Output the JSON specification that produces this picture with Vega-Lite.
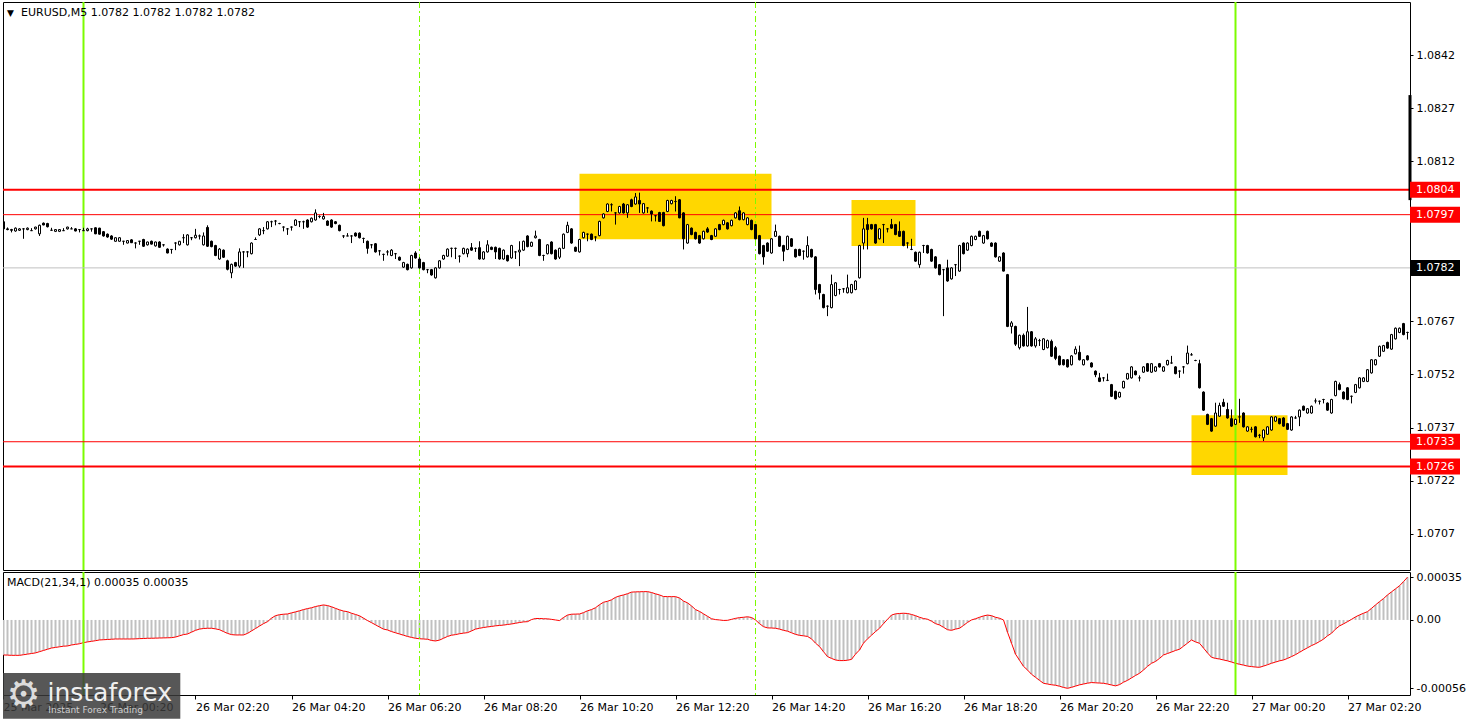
{
"$schema":"https://vega.github.io/schema/vega-lite/v6.json",
"background":"#ffffff",
"padding":{"left":1,"top":0,"right":0,"bottom":0},
"spacing":2,
"bounds":"flush",
"config":{"view":{"stroke":"#000000","strokeWidth":1},"font":"DejaVu Sans","axis":{"labelFont":"DejaVu Sans","labelFontSize":11,"labelColor":"#000000","tickColor":"#000000","tickWidth":1,"domain":false,"grid":false}},
"datasets":{
"bars":[
{"t":"2025-03-25T22:20","o":1.0795,"h":1.07956,"l":1.07926,"c":1.0793,"m":-0.000287},
{"t":"2025-03-25T22:25","o":1.0793,"h":1.07934,"l":1.07926,"c":1.07928,"m":-0.000288},
{"t":"2025-03-25T22:30","o":1.07928,"h":1.0793,"l":1.0792,"c":1.07926,"m":-0.00029},
{"t":"2025-03-25T22:35","o":1.07924,"h":1.07934,"l":1.07922,"c":1.07932,"m":-0.00029},
{"t":"2025-03-25T22:40","o":1.07926,"h":1.07932,"l":1.07924,"c":1.0793,"m":-0.00029},
{"t":"2025-03-25T22:45","o":1.0793,"h":1.07932,"l":1.07902,"c":1.0793,"m":-0.000285},
{"t":"2025-03-25T22:50","o":1.07928,"h":1.07934,"l":1.07926,"c":1.07932,"m":-0.00028},
{"t":"2025-03-25T22:55","o":1.07925,"h":1.07932,"l":1.07925,"c":1.07925,"m":-0.000275},
{"t":"2025-03-25T23:00","o":1.0793,"h":1.07936,"l":1.07928,"c":1.07935,"m":-0.00027},
{"t":"2025-03-25T23:05","o":1.07916,"h":1.07942,"l":1.0791,"c":1.0794,"m":-0.00026},
{"t":"2025-03-25T23:10","o":1.07946,"h":1.07948,"l":1.0794,"c":1.07941,"m":-0.00025},
{"t":"2025-03-25T23:15","o":1.07945,"h":1.07947,"l":1.07934,"c":1.07936,"m":-0.00024},
{"t":"2025-03-25T23:20","o":1.07926,"h":1.07933,"l":1.07926,"c":1.07926,"m":-0.00023},
{"t":"2025-03-25T23:25","o":1.07923,"h":1.07929,"l":1.07921,"c":1.07928,"m":-0.000225},
{"t":"2025-03-25T23:30","o":1.07923,"h":1.07929,"l":1.07921,"c":1.07928,"m":-0.00022},
{"t":"2025-03-25T23:35","o":1.07925,"h":1.07932,"l":1.07925,"c":1.07925,"m":-0.000215},
{"t":"2025-03-25T23:40","o":1.0793,"h":1.07936,"l":1.07928,"c":1.07935,"m":-0.000213},
{"t":"2025-03-25T23:45","o":1.0793,"h":1.07935,"l":1.0793,"c":1.0793,"m":-0.000205},
{"t":"2025-03-25T23:50","o":1.0793,"h":1.07932,"l":1.07923,"c":1.07924,"m":-0.0002},
{"t":"2025-03-25T23:55","o":1.07928,"h":1.07928,"l":1.0792,"c":1.07928,"m":-0.000195},
{"t":"2025-03-26T00:00","o":1.07925,"h":1.07933,"l":1.07925,"c":1.07925,"m":-0.000186},
{"t":"2025-03-26T00:05","o":1.07925,"h":1.07933,"l":1.07923,"c":1.0793,"m":-0.00018},
{"t":"2025-03-26T00:10","o":1.0793,"h":1.0793,"l":1.07922,"c":1.0793,"m":-0.000175},
{"t":"2025-03-26T00:15","o":1.07933,"h":1.07934,"l":1.07915,"c":1.07916,"m":-0.00017},
{"t":"2025-03-26T00:20","o":1.07932,"h":1.07933,"l":1.07914,"c":1.07915,"m":-0.000164},
{"t":"2025-03-26T00:25","o":1.07922,"h":1.07924,"l":1.07908,"c":1.0791,"m":-0.000162},
{"t":"2025-03-26T00:30","o":1.07915,"h":1.07917,"l":1.07905,"c":1.07907,"m":-0.00016},
{"t":"2025-03-26T00:35","o":1.0791,"h":1.07912,"l":1.07899,"c":1.07901,"m":-0.000158},
{"t":"2025-03-26T00:40","o":1.07895,"h":1.07906,"l":1.07894,"c":1.07905,"m":-0.000156},
{"t":"2025-03-26T00:45","o":1.07895,"h":1.07906,"l":1.07894,"c":1.07905,"m":-0.000156},
{"t":"2025-03-26T00:50","o":1.07895,"h":1.07896,"l":1.07885,"c":1.07895,"m":-0.000156},
{"t":"2025-03-26T00:55","o":1.0789,"h":1.07898,"l":1.07889,"c":1.07897,"m":-0.000156},
{"t":"2025-03-26T01:00","o":1.07899,"h":1.07901,"l":1.0789,"c":1.07891,"m":-0.000156},
{"t":"2025-03-26T01:05","o":1.0789,"h":1.07892,"l":1.07875,"c":1.0789,"m":-0.000155},
{"t":"2025-03-26T01:10","o":1.07895,"h":1.07896,"l":1.07885,"c":1.07895,"m":-0.000153},
{"t":"2025-03-26T01:15","o":1.079,"h":1.07902,"l":1.07879,"c":1.07881,"m":-0.000152},
{"t":"2025-03-26T01:20","o":1.07885,"h":1.07894,"l":1.07883,"c":1.07893,"m":-0.00015},
{"t":"2025-03-26T01:25","o":1.07895,"h":1.07897,"l":1.07886,"c":1.07887,"m":-0.00015},
{"t":"2025-03-26T01:30","o":1.07882,"h":1.07894,"l":1.0788,"c":1.07893,"m":-0.000149},
{"t":"2025-03-26T01:35","o":1.07893,"h":1.07895,"l":1.07877,"c":1.07878,"m":-0.000148},
{"t":"2025-03-26T01:40","o":1.07885,"h":1.07886,"l":1.0788,"c":1.07885,"m":-0.000147},
{"t":"2025-03-26T01:45","o":1.07873,"h":1.07875,"l":1.07861,"c":1.07862,"m":-0.000146},
{"t":"2025-03-26T01:50","o":1.07872,"h":1.07873,"l":1.0786,"c":1.07872,"m":-0.000145},
{"t":"2025-03-26T01:55","o":1.0789,"h":1.07892,"l":1.0787,"c":1.0789,"m":-0.00014},
{"t":"2025-03-26T02:00","o":1.07885,"h":1.07896,"l":1.07883,"c":1.07895,"m":-0.00013},
{"t":"2025-03-26T02:05","o":1.07905,"h":1.07915,"l":1.0789,"c":1.07905,"m":-0.00012},
{"t":"2025-03-26T02:10","o":1.07885,"h":1.07915,"l":1.07883,"c":1.07913,"m":-0.000115},
{"t":"2025-03-26T02:15","o":1.07905,"h":1.07907,"l":1.07898,"c":1.07905,"m":-0.0001},
{"t":"2025-03-26T02:20","o":1.07905,"h":1.0793,"l":1.07903,"c":1.07912,"m":-0.000085},
{"t":"2025-03-26T02:25","o":1.0791,"h":1.07914,"l":1.079,"c":1.0791,"m":-0.000075},
{"t":"2025-03-26T02:30","o":1.07885,"h":1.0792,"l":1.07883,"c":1.0791,"m":-0.00007},
{"t":"2025-03-26T02:35","o":1.07934,"h":1.0794,"l":1.07879,"c":1.07881,"m":-0.000068},
{"t":"2025-03-26T02:40","o":1.07895,"h":1.07897,"l":1.07878,"c":1.0788,"m":-0.000068},
{"t":"2025-03-26T02:45","o":1.07883,"h":1.07885,"l":1.07853,"c":1.07855,"m":-0.000073},
{"t":"2025-03-26T02:50","o":1.07845,"h":1.07876,"l":1.07843,"c":1.07873,"m":-0.00008},
{"t":"2025-03-26T02:55","o":1.0787,"h":1.07872,"l":1.07848,"c":1.0785,"m":-0.000095},
{"t":"2025-03-26T03:00","o":1.0784,"h":1.07843,"l":1.07813,"c":1.07816,"m":-0.00011},
{"t":"2025-03-26T03:05","o":1.07806,"h":1.07832,"l":1.07791,"c":1.0783,"m":-0.00012},
{"t":"2025-03-26T03:10","o":1.07835,"h":1.07837,"l":1.07823,"c":1.07825,"m":-0.000123},
{"t":"2025-03-26T03:15","o":1.07825,"h":1.07875,"l":1.0782,"c":1.07865,"m":-0.000123},
{"t":"2025-03-26T03:20","o":1.07865,"h":1.07867,"l":1.0782,"c":1.07865,"m":-0.000123},
{"t":"2025-03-26T03:25","o":1.07865,"h":1.07867,"l":1.0785,"c":1.07865,"m":-0.00011},
{"t":"2025-03-26T03:30","o":1.0786,"h":1.07892,"l":1.07858,"c":1.0789,"m":-0.00009},
{"t":"2025-03-26T03:35","o":1.079,"h":1.07906,"l":1.079,"c":1.079,"m":-0.00007},
{"t":"2025-03-26T03:40","o":1.07913,"h":1.07932,"l":1.0791,"c":1.0793,"m":-0.00005},
{"t":"2025-03-26T03:45","o":1.07925,"h":1.07935,"l":1.07915,"c":1.07925,"m":-0.00003},
{"t":"2025-03-26T03:50","o":1.0793,"h":1.07952,"l":1.07928,"c":1.0795,"m":-0.000014},
{"t":"2025-03-26T03:55","o":1.0795,"h":1.07953,"l":1.07935,"c":1.0795,"m":0.000015},
{"t":"2025-03-26T04:00","o":1.07952,"h":1.07955,"l":1.0794,"c":1.07952,"m":0.000035},
{"t":"2025-03-26T04:05","o":1.07945,"h":1.07947,"l":1.07943,"c":1.07945,"m":0.000043},
{"t":"2025-03-26T04:10","o":1.07935,"h":1.07937,"l":1.07923,"c":1.07935,"m":0.000047},
{"t":"2025-03-26T04:15","o":1.0793,"h":1.07932,"l":1.07913,"c":1.0793,"m":0.000049},
{"t":"2025-03-26T04:20","o":1.07935,"h":1.07937,"l":1.07925,"c":1.07935,"m":0.000058},
{"t":"2025-03-26T04:25","o":1.0794,"h":1.07957,"l":1.07938,"c":1.07955,"m":0.000066},
{"t":"2025-03-26T04:30","o":1.0795,"h":1.07952,"l":1.07935,"c":1.0795,"m":0.000075},
{"t":"2025-03-26T04:35","o":1.0795,"h":1.07953,"l":1.0793,"c":1.0795,"m":0.000085},
{"t":"2025-03-26T04:40","o":1.07955,"h":1.07957,"l":1.07933,"c":1.07935,"m":0.000093},
{"t":"2025-03-26T04:45","o":1.0795,"h":1.07962,"l":1.07948,"c":1.0796,"m":0.0001},
{"t":"2025-03-26T04:50","o":1.07955,"h":1.07985,"l":1.07953,"c":1.07975,"m":0.00011},
{"t":"2025-03-26T04:55","o":1.07965,"h":1.07968,"l":1.0796,"c":1.07965,"m":0.000117},
{"t":"2025-03-26T05:00","o":1.07958,"h":1.07975,"l":1.07956,"c":1.07965,"m":0.000123},
{"t":"2025-03-26T05:05","o":1.07952,"h":1.07954,"l":1.07938,"c":1.0794,"m":0.000118},
{"t":"2025-03-26T05:10","o":1.07955,"h":1.07957,"l":1.07933,"c":1.07935,"m":0.000108},
{"t":"2025-03-26T05:15","o":1.0795,"h":1.07952,"l":1.07943,"c":1.07945,"m":0.000095},
{"t":"2025-03-26T05:20","o":1.0794,"h":1.07942,"l":1.07923,"c":1.07925,"m":0.000083},
{"t":"2025-03-26T05:25","o":1.0791,"h":1.07912,"l":1.07904,"c":1.0791,"m":0.000073},
{"t":"2025-03-26T05:30","o":1.0791,"h":1.07918,"l":1.0791,"c":1.0791,"m":0.000068},
{"t":"2025-03-26T05:35","o":1.0791,"h":1.07912,"l":1.0789,"c":1.0791,"m":0.000055},
{"t":"2025-03-26T05:40","o":1.07918,"h":1.0792,"l":1.07908,"c":1.0791,"m":0.000045},
{"t":"2025-03-26T05:45","o":1.07918,"h":1.0792,"l":1.07903,"c":1.07905,"m":0.000034},
{"t":"2025-03-26T05:50","o":1.07903,"h":1.07905,"l":1.0789,"c":1.07903,"m":0.000015},
{"t":"2025-03-26T05:55","o":1.07895,"h":1.07897,"l":1.0786,"c":1.07875,"m":-0.000005},
{"t":"2025-03-26T06:00","o":1.07885,"h":1.07887,"l":1.07875,"c":1.07885,"m":-0.000022},
{"t":"2025-03-26T06:05","o":1.07888,"h":1.0789,"l":1.07863,"c":1.07865,"m":-0.00004},
{"t":"2025-03-26T06:10","o":1.07868,"h":1.0787,"l":1.07855,"c":1.07868,"m":-0.000058},
{"t":"2025-03-26T06:15","o":1.07858,"h":1.0786,"l":1.0784,"c":1.07858,"m":-0.000075},
{"t":"2025-03-26T06:20","o":1.07865,"h":1.0787,"l":1.07855,"c":1.07865,"m":-0.000082},
{"t":"2025-03-26T06:25","o":1.07855,"h":1.07873,"l":1.07853,"c":1.0787,"m":-0.000095},
{"t":"2025-03-26T06:30","o":1.0786,"h":1.07862,"l":1.07845,"c":1.0786,"m":-0.000105},
{"t":"2025-03-26T06:35","o":1.0785,"h":1.07852,"l":1.0784,"c":1.07842,"m":-0.000115},
{"t":"2025-03-26T06:40","o":1.07822,"h":1.07837,"l":1.0782,"c":1.07835,"m":-0.000125},
{"t":"2025-03-26T06:45","o":1.0783,"h":1.07832,"l":1.07813,"c":1.07815,"m":-0.000135},
{"t":"2025-03-26T06:50","o":1.0782,"h":1.07857,"l":1.07818,"c":1.07855,"m":-0.000143},
{"t":"2025-03-26T06:55","o":1.07862,"h":1.07867,"l":1.07846,"c":1.07848,"m":-0.00015},
{"t":"2025-03-26T07:00","o":1.07845,"h":1.0785,"l":1.07818,"c":1.0782,"m":-0.000154},
{"t":"2025-03-26T07:05","o":1.07835,"h":1.07837,"l":1.07813,"c":1.07815,"m":-0.000156},
{"t":"2025-03-26T07:10","o":1.07815,"h":1.07817,"l":1.07805,"c":1.07815,"m":-0.000158},
{"t":"2025-03-26T07:15","o":1.07815,"h":1.07817,"l":1.07798,"c":1.078,"m":-0.000168},
{"t":"2025-03-26T07:20","o":1.07792,"h":1.07822,"l":1.0779,"c":1.0782,"m":-0.000172},
{"t":"2025-03-26T07:25","o":1.0782,"h":1.07842,"l":1.07818,"c":1.0784,"m":-0.000165},
{"t":"2025-03-26T07:30","o":1.07845,"h":1.07857,"l":1.07843,"c":1.07855,"m":-0.00015},
{"t":"2025-03-26T07:35","o":1.07853,"h":1.07875,"l":1.07851,"c":1.07873,"m":-0.000135},
{"t":"2025-03-26T07:40","o":1.07875,"h":1.07877,"l":1.0785,"c":1.07875,"m":-0.000125},
{"t":"2025-03-26T07:45","o":1.07875,"h":1.07877,"l":1.07845,"c":1.07875,"m":-0.00012},
{"t":"2025-03-26T07:50","o":1.07853,"h":1.07855,"l":1.07835,"c":1.07853,"m":-0.000113},
{"t":"2025-03-26T07:55","o":1.0786,"h":1.07877,"l":1.07858,"c":1.07875,"m":-0.000108},
{"t":"2025-03-26T08:00","o":1.0786,"h":1.07875,"l":1.0785,"c":1.07873,"m":-0.000104},
{"t":"2025-03-26T08:05","o":1.07877,"h":1.0789,"l":1.07868,"c":1.0787,"m":-0.00009},
{"t":"2025-03-26T08:10","o":1.07875,"h":1.07877,"l":1.07865,"c":1.07875,"m":-0.000075},
{"t":"2025-03-26T08:15","o":1.07877,"h":1.07895,"l":1.07843,"c":1.07845,"m":-0.000068},
{"t":"2025-03-26T08:20","o":1.07845,"h":1.07867,"l":1.07843,"c":1.07865,"m":-0.000062},
{"t":"2025-03-26T08:25","o":1.07865,"h":1.07898,"l":1.07863,"c":1.07885,"m":-0.000057},
{"t":"2025-03-26T08:30","o":1.07878,"h":1.0788,"l":1.0787,"c":1.07872,"m":-0.000053},
{"t":"2025-03-26T08:35","o":1.07878,"h":1.0788,"l":1.07845,"c":1.07865,"m":-0.000048},
{"t":"2025-03-26T08:40","o":1.07875,"h":1.07877,"l":1.07843,"c":1.07845,"m":-0.000045},
{"t":"2025-03-26T08:45","o":1.07845,"h":1.07872,"l":1.07843,"c":1.0787,"m":-0.000042},
{"t":"2025-03-26T08:50","o":1.07855,"h":1.07857,"l":1.07838,"c":1.0784,"m":-0.000037},
{"t":"2025-03-26T08:55","o":1.07848,"h":1.07885,"l":1.07846,"c":1.07883,"m":-0.000033},
{"t":"2025-03-26T09:00","o":1.07865,"h":1.07867,"l":1.07845,"c":1.07865,"m":-0.000027},
{"t":"2025-03-26T09:05","o":1.07865,"h":1.07895,"l":1.07825,"c":1.0787,"m":-0.000021},
{"t":"2025-03-26T09:10","o":1.0787,"h":1.07897,"l":1.07868,"c":1.07895,"m":-0.000016},
{"t":"2025-03-26T09:15","o":1.0791,"h":1.07912,"l":1.07878,"c":1.0788,"m":-0.000014},
{"t":"2025-03-26T09:20","o":1.07881,"h":1.07894,"l":1.07879,"c":1.07892,"m":0.000003},
{"t":"2025-03-26T09:25","o":1.07905,"h":1.07925,"l":1.07903,"c":1.0791,"m":0.000012},
{"t":"2025-03-26T09:30","o":1.079,"h":1.07902,"l":1.07853,"c":1.07855,"m":0.000012},
{"t":"2025-03-26T09:35","o":1.07855,"h":1.07857,"l":1.0784,"c":1.07855,"m":0.00001},
{"t":"2025-03-26T09:40","o":1.0786,"h":1.07887,"l":1.07858,"c":1.07885,"m":0.000009},
{"t":"2025-03-26T09:45","o":1.07893,"h":1.07895,"l":1.07858,"c":1.0786,"m":0.000005},
{"t":"2025-03-26T09:50","o":1.0787,"h":1.07872,"l":1.07843,"c":1.07845,"m":0},
{"t":"2025-03-26T09:55","o":1.0785,"h":1.07877,"l":1.07845,"c":1.07875,"m":-0.000005},
{"t":"2025-03-26T10:00","o":1.07875,"h":1.07917,"l":1.07873,"c":1.07915,"m":0.00002},
{"t":"2025-03-26T10:05","o":1.0792,"h":1.0795,"l":1.07918,"c":1.0794,"m":0.00004},
{"t":"2025-03-26T10:10","o":1.0793,"h":1.07932,"l":1.07888,"c":1.0789,"m":0.000047},
{"t":"2025-03-26T10:15","o":1.07878,"h":1.0788,"l":1.07865,"c":1.07867,"m":0.000048},
{"t":"2025-03-26T10:20","o":1.07865,"h":1.07902,"l":1.07863,"c":1.079,"m":0.000049},
{"t":"2025-03-26T10:25","o":1.07905,"h":1.07922,"l":1.07903,"c":1.0792,"m":0.00006},
{"t":"2025-03-26T10:30","o":1.07915,"h":1.07917,"l":1.07895,"c":1.07915,"m":0.000075},
{"t":"2025-03-26T10:35","o":1.07915,"h":1.07917,"l":1.07898,"c":1.079,"m":0.000085},
{"t":"2025-03-26T10:40","o":1.07907,"h":1.07909,"l":1.07895,"c":1.07907,"m":0.0001},
{"t":"2025-03-26T10:45","o":1.07911,"h":1.07953,"l":1.07909,"c":1.07951,"m":0.000125},
{"t":"2025-03-26T10:50","o":1.07961,"h":1.07974,"l":1.07959,"c":1.07972,"m":0.000145},
{"t":"2025-03-26T10:55","o":1.07979,"h":1.08002,"l":1.07977,"c":1.08,"m":0.000153},
{"t":"2025-03-26T11:00","o":1.07998,"h":1.08002,"l":1.07979,"c":1.07998,"m":0.000165},
{"t":"2025-03-26T11:05","o":1.07975,"h":1.07977,"l":1.07942,"c":1.07975,"m":0.000185},
{"t":"2025-03-26T11:10","o":1.07975,"h":1.07995,"l":1.07973,"c":1.07993,"m":0.000197},
{"t":"2025-03-26T11:15","o":1.08,"h":1.08003,"l":1.07973,"c":1.07975,"m":0.000205},
{"t":"2025-03-26T11:20","o":1.07975,"h":1.08,"l":1.07961,"c":1.07998,"m":0.000215},
{"t":"2025-03-26T11:25","o":1.08012,"h":1.08015,"l":1.07991,"c":1.07993,"m":0.000228},
{"t":"2025-03-26T11:30","o":1.08,"h":1.08031,"l":1.07998,"c":1.0802,"m":0.00023},
{"t":"2025-03-26T11:35","o":1.0801,"h":1.08032,"l":1.07975,"c":1.08,"m":0.000231},
{"t":"2025-03-26T11:40","o":1.07975,"h":1.08003,"l":1.07973,"c":1.08001,"m":0.000232},
{"t":"2025-03-26T11:45","o":1.07989,"h":1.07991,"l":1.07975,"c":1.07989,"m":0.000232},
{"t":"2025-03-26T11:50","o":1.0798,"h":1.07982,"l":1.07951,"c":1.07972,"m":0.000225},
{"t":"2025-03-26T11:55","o":1.07967,"h":1.07969,"l":1.07951,"c":1.07967,"m":0.000214},
{"t":"2025-03-26T12:00","o":1.07976,"h":1.07978,"l":1.0795,"c":1.07951,"m":0.000205},
{"t":"2025-03-26T12:05","o":1.07976,"h":1.07978,"l":1.07937,"c":1.07939,"m":0.000192},
{"t":"2025-03-26T12:10","o":1.07979,"h":1.08012,"l":1.07977,"c":1.0801,"m":0.000191},
{"t":"2025-03-26T12:15","o":1.08001,"h":1.08012,"l":1.07999,"c":1.0801,"m":0.000191},
{"t":"2025-03-26T12:20","o":1.08007,"h":1.08022,"l":1.07979,"c":1.08007,"m":0.000191},
{"t":"2025-03-26T12:25","o":1.08012,"h":1.08014,"l":1.0796,"c":1.07961,"m":0.00018},
{"t":"2025-03-26T12:30","o":1.07975,"h":1.07977,"l":1.07872,"c":1.07902,"m":0.000155},
{"t":"2025-03-26T12:35","o":1.0789,"h":1.07944,"l":1.07888,"c":1.07942,"m":0.00014},
{"t":"2025-03-26T12:40","o":1.07932,"h":1.07934,"l":1.07912,"c":1.07914,"m":0.000115},
{"t":"2025-03-26T12:45","o":1.0792,"h":1.07922,"l":1.079,"c":1.07902,"m":0.000085},
{"t":"2025-03-26T12:50","o":1.07911,"h":1.07913,"l":1.07888,"c":1.0789,"m":0.00007},
{"t":"2025-03-26T12:55","o":1.07902,"h":1.07925,"l":1.079,"c":1.07923,"m":0.00005},
{"t":"2025-03-26T13:00","o":1.0793,"h":1.07935,"l":1.07919,"c":1.07921,"m":0.00003},
{"t":"2025-03-26T13:05","o":1.07911,"h":1.07913,"l":1.07898,"c":1.079,"m":0.00001},
{"t":"2025-03-26T13:10","o":1.07909,"h":1.07932,"l":1.07907,"c":1.0793,"m":0.000003},
{"t":"2025-03-26T13:15","o":1.07942,"h":1.07944,"l":1.07926,"c":1.07928,"m":0},
{"t":"2025-03-26T13:20","o":1.07942,"h":1.07956,"l":1.0794,"c":1.07954,"m":-0.000004},
{"t":"2025-03-26T13:25","o":1.07947,"h":1.07949,"l":1.07928,"c":1.0793,"m":-0.000003},
{"t":"2025-03-26T13:30","o":1.07939,"h":1.07956,"l":1.07937,"c":1.07954,"m":0.000005},
{"t":"2025-03-26T13:35","o":1.07961,"h":1.07977,"l":1.07959,"c":1.07975,"m":0.000013},
{"t":"2025-03-26T13:40","o":1.07981,"h":1.07993,"l":1.07954,"c":1.07956,"m":0.000019},
{"t":"2025-03-26T13:45","o":1.07956,"h":1.07977,"l":1.07954,"c":1.07975,"m":0.000022},
{"t":"2025-03-26T13:50","o":1.07942,"h":1.07963,"l":1.0794,"c":1.07961,"m":0.000026},
{"t":"2025-03-26T13:55","o":1.07954,"h":1.07956,"l":1.07926,"c":1.07928,"m":0.00002},
{"t":"2025-03-26T14:00","o":1.07942,"h":1.07944,"l":1.079,"c":1.07902,"m":0},
{"t":"2025-03-26T14:05","o":1.07911,"h":1.07913,"l":1.07858,"c":1.0786,"m":-0.00003},
{"t":"2025-03-26T14:10","o":1.07883,"h":1.07885,"l":1.07829,"c":1.07851,"m":-0.000055},
{"t":"2025-03-26T14:15","o":1.0789,"h":1.07892,"l":1.07865,"c":1.07867,"m":-0.000065},
{"t":"2025-03-26T14:20","o":1.07862,"h":1.07904,"l":1.0786,"c":1.07902,"m":-0.000066},
{"t":"2025-03-26T14:25","o":1.07909,"h":1.07942,"l":1.07907,"c":1.07923,"m":-0.000068},
{"t":"2025-03-26T14:30","o":1.07909,"h":1.07911,"l":1.07879,"c":1.07881,"m":-0.000075},
{"t":"2025-03-26T14:35","o":1.07883,"h":1.07885,"l":1.07839,"c":1.07867,"m":-0.000085},
{"t":"2025-03-26T14:40","o":1.07872,"h":1.07911,"l":1.0787,"c":1.07909,"m":-0.000092},
{"t":"2025-03-26T14:45","o":1.07902,"h":1.07904,"l":1.07879,"c":1.07881,"m":-0.000105},
{"t":"2025-03-26T14:50","o":1.07872,"h":1.07874,"l":1.07849,"c":1.07851,"m":-0.000118},
{"t":"2025-03-26T14:55","o":1.07872,"h":1.07874,"l":1.07853,"c":1.07855,"m":-0.000126},
{"t":"2025-03-26T15:00","o":1.07867,"h":1.07869,"l":1.07843,"c":1.07867,"m":-0.00013},
{"t":"2025-03-26T15:05","o":1.07851,"h":1.07909,"l":1.07849,"c":1.07883,"m":-0.000135},
{"t":"2025-03-26T15:10","o":1.07872,"h":1.07874,"l":1.07849,"c":1.07851,"m":-0.000155},
{"t":"2025-03-26T15:15","o":1.07851,"h":1.07853,"l":1.07745,"c":1.07759,"m":-0.00019},
{"t":"2025-03-26T15:20","o":1.07773,"h":1.07775,"l":1.07731,"c":1.0775,"m":-0.000218},
{"t":"2025-03-26T15:25","o":1.07745,"h":1.07747,"l":1.07706,"c":1.07708,"m":-0.00026},
{"t":"2025-03-26T15:30","o":1.07712,"h":1.07714,"l":1.07684,"c":1.07712,"m":-0.0003},
{"t":"2025-03-26T15:35","o":1.07708,"h":1.07801,"l":1.07706,"c":1.07773,"m":-0.000315},
{"t":"2025-03-26T15:40","o":1.07742,"h":1.0778,"l":1.0774,"c":1.07778,"m":-0.000328},
{"t":"2025-03-26T15:45","o":1.07759,"h":1.07761,"l":1.07745,"c":1.07759,"m":-0.000333},
{"t":"2025-03-26T15:50","o":1.07761,"h":1.07763,"l":1.0775,"c":1.07761,"m":-0.000333},
{"t":"2025-03-26T15:55","o":1.0775,"h":1.07801,"l":1.07748,"c":1.07764,"m":-0.00033},
{"t":"2025-03-26T16:00","o":1.0775,"h":1.07775,"l":1.07748,"c":1.07773,"m":-0.000323},
{"t":"2025-03-26T16:05","o":1.07759,"h":1.07785,"l":1.07757,"c":1.07783,"m":-0.00028},
{"t":"2025-03-26T16:10","o":1.07792,"h":1.07885,"l":1.0779,"c":1.07883,"m":-0.000246},
{"t":"2025-03-26T16:15","o":1.0789,"h":1.07961,"l":1.07872,"c":1.0793,"m":-0.00019},
{"t":"2025-03-26T16:20","o":1.07942,"h":1.07961,"l":1.07872,"c":1.07928,"m":-0.000155},
{"t":"2025-03-26T16:25","o":1.07942,"h":1.07944,"l":1.07928,"c":1.0793,"m":-0.000125},
{"t":"2025-03-26T16:30","o":1.07942,"h":1.07944,"l":1.07888,"c":1.0789,"m":-0.000095},
{"t":"2025-03-26T16:35","o":1.07902,"h":1.07932,"l":1.079,"c":1.0793,"m":-0.000068},
{"t":"2025-03-26T16:40","o":1.07942,"h":1.07944,"l":1.0789,"c":1.07942,"m":-0.00003},
{"t":"2025-03-26T16:45","o":1.0793,"h":1.07932,"l":1.0792,"c":1.0793,"m":0.000005},
{"t":"2025-03-26T16:50","o":1.07942,"h":1.07958,"l":1.0793,"c":1.07932,"m":0.00004},
{"t":"2025-03-26T16:55","o":1.07942,"h":1.07944,"l":1.07912,"c":1.07914,"m":0.00005},
{"t":"2025-03-26T17:00","o":1.07923,"h":1.07951,"l":1.07907,"c":1.07909,"m":0.000053},
{"t":"2025-03-26T17:05","o":1.07923,"h":1.07925,"l":1.07881,"c":1.07883,"m":0.000055},
{"t":"2025-03-26T17:10","o":1.0789,"h":1.07892,"l":1.07875,"c":1.0789,"m":0.000053},
{"t":"2025-03-26T17:15","o":1.07872,"h":1.07902,"l":1.0787,"c":1.07872,"m":0.000045},
{"t":"2025-03-26T17:20","o":1.07864,"h":1.07866,"l":1.07837,"c":1.07839,"m":0.000035},
{"t":"2025-03-26T17:25","o":1.07829,"h":1.07866,"l":1.0782,"c":1.07864,"m":0.000022},
{"t":"2025-03-26T17:30","o":1.07883,"h":1.07885,"l":1.07862,"c":1.07883,"m":0.000012},
{"t":"2025-03-26T17:35","o":1.07883,"h":1.07885,"l":1.0786,"c":1.07862,"m":0.000006},
{"t":"2025-03-26T17:40","o":1.07872,"h":1.07874,"l":1.07837,"c":1.07839,"m":-0.00001},
{"t":"2025-03-26T17:45","o":1.07851,"h":1.07853,"l":1.07818,"c":1.0782,"m":-0.00003},
{"t":"2025-03-26T17:50","o":1.07829,"h":1.07831,"l":1.07799,"c":1.07801,"m":-0.000041},
{"t":"2025-03-26T17:55","o":1.07815,"h":1.07817,"l":1.07684,"c":1.07815,"m":-0.00006},
{"t":"2025-03-26T18:00","o":1.0782,"h":1.07843,"l":1.07781,"c":1.07783,"m":-0.00008},
{"t":"2025-03-26T18:05","o":1.07789,"h":1.07822,"l":1.07787,"c":1.0782,"m":-0.000085},
{"t":"2025-03-26T18:10","o":1.07829,"h":1.07831,"l":1.07797,"c":1.07829,"m":-0.000075},
{"t":"2025-03-26T18:15","o":1.07811,"h":1.07885,"l":1.07809,"c":1.07883,"m":-0.000068},
{"t":"2025-03-26T18:20","o":1.0789,"h":1.07892,"l":1.07858,"c":1.0786,"m":-0.000045},
{"t":"2025-03-26T18:25","o":1.0787,"h":1.07892,"l":1.07868,"c":1.0789,"m":-0.00002},
{"t":"2025-03-26T18:30","o":1.07883,"h":1.07911,"l":1.07881,"c":1.07909,"m":0},
{"t":"2025-03-26T18:35","o":1.079,"h":1.07911,"l":1.07898,"c":1.07909,"m":0.00001},
{"t":"2025-03-26T18:40","o":1.07923,"h":1.07925,"l":1.07907,"c":1.07909,"m":0.000022},
{"t":"2025-03-26T18:45","o":1.0789,"h":1.07913,"l":1.07888,"c":1.07911,"m":0.000033},
{"t":"2025-03-26T18:50","o":1.07923,"h":1.07925,"l":1.079,"c":1.07902,"m":0.00004},
{"t":"2025-03-26T18:55","o":1.0789,"h":1.07892,"l":1.07879,"c":1.07881,"m":0.000035},
{"t":"2025-03-26T19:00","o":1.0789,"h":1.07892,"l":1.07849,"c":1.07851,"m":0.000022},
{"t":"2025-03-26T19:05","o":1.07839,"h":1.07853,"l":1.07837,"c":1.07851,"m":0.000014},
{"t":"2025-03-26T19:10","o":1.07862,"h":1.07864,"l":1.0781,"c":1.07811,"m":0},
{"t":"2025-03-26T19:15","o":1.07801,"h":1.07803,"l":1.07653,"c":1.07655,"m":-0.0001},
{"t":"2025-03-26T19:20","o":1.07655,"h":1.0767,"l":1.07635,"c":1.07665,"m":-0.00019},
{"t":"2025-03-26T19:25","o":1.07655,"h":1.07657,"l":1.076,"c":1.07605,"m":-0.00028},
{"t":"2025-03-26T19:30","o":1.07595,"h":1.07632,"l":1.0759,"c":1.0763,"m":-0.00033},
{"t":"2025-03-26T19:35","o":1.0763,"h":1.07635,"l":1.07598,"c":1.076,"m":-0.00038},
{"t":"2025-03-26T19:40","o":1.076,"h":1.0771,"l":1.07598,"c":1.0764,"m":-0.00041},
{"t":"2025-03-26T19:45","o":1.0764,"h":1.07642,"l":1.07598,"c":1.076,"m":-0.000445},
{"t":"2025-03-26T19:50","o":1.076,"h":1.07625,"l":1.07595,"c":1.0762,"m":-0.00047},
{"t":"2025-03-26T19:55","o":1.07615,"h":1.0762,"l":1.076,"c":1.07615,"m":-0.000495},
{"t":"2025-03-26T20:00","o":1.0759,"h":1.07622,"l":1.07588,"c":1.0762,"m":-0.000519},
{"t":"2025-03-26T20:05","o":1.07595,"h":1.07618,"l":1.07593,"c":1.07615,"m":-0.000525},
{"t":"2025-03-26T20:10","o":1.07613,"h":1.07618,"l":1.07569,"c":1.07571,"m":-0.000531},
{"t":"2025-03-26T20:15","o":1.07595,"h":1.076,"l":1.0756,"c":1.07565,"m":-0.000535},
{"t":"2025-03-26T20:20","o":1.07571,"h":1.07573,"l":1.07545,"c":1.07547,"m":-0.000543},
{"t":"2025-03-26T20:25","o":1.07561,"h":1.07563,"l":1.07545,"c":1.07547,"m":-0.000553},
{"t":"2025-03-26T20:30","o":1.07561,"h":1.07563,"l":1.07539,"c":1.07541,"m":-0.00056},
{"t":"2025-03-26T20:35","o":1.07547,"h":1.07574,"l":1.07545,"c":1.07572,"m":-0.000552},
{"t":"2025-03-26T20:40","o":1.07578,"h":1.07599,"l":1.07576,"c":1.07591,"m":-0.000542},
{"t":"2025-03-26T20:45","o":1.07582,"h":1.07601,"l":1.07559,"c":1.07561,"m":-0.000532},
{"t":"2025-03-26T20:50","o":1.07547,"h":1.07563,"l":1.07545,"c":1.07561,"m":-0.000525},
{"t":"2025-03-26T20:55","o":1.07572,"h":1.07574,"l":1.07559,"c":1.07561,"m":-0.000518},
{"t":"2025-03-26T21:00","o":1.07552,"h":1.07554,"l":1.07539,"c":1.07541,"m":-0.000513},
{"t":"2025-03-26T21:05","o":1.07529,"h":1.07531,"l":1.07512,"c":1.07519,"m":-0.000515},
{"t":"2025-03-26T21:10","o":1.0751,"h":1.07524,"l":1.07498,"c":1.075,"m":-0.000517},
{"t":"2025-03-26T21:15","o":1.0751,"h":1.07512,"l":1.075,"c":1.0751,"m":-0.000519},
{"t":"2025-03-26T21:20","o":1.07503,"h":1.07522,"l":1.07501,"c":1.07503,"m":-0.000525},
{"t":"2025-03-26T21:25","o":1.07491,"h":1.07493,"l":1.07456,"c":1.07458,"m":-0.000533},
{"t":"2025-03-26T21:30","o":1.07472,"h":1.07474,"l":1.07449,"c":1.07451,"m":-0.00054},
{"t":"2025-03-26T21:35","o":1.07456,"h":1.07471,"l":1.07454,"c":1.07469,"m":-0.00053},
{"t":"2025-03-26T21:40","o":1.07482,"h":1.07502,"l":1.0748,"c":1.075,"m":-0.00051},
{"t":"2025-03-26T21:45","o":1.07507,"h":1.07524,"l":1.07505,"c":1.07522,"m":-0.000495},
{"t":"2025-03-26T21:50","o":1.0751,"h":1.07543,"l":1.07508,"c":1.07541,"m":-0.000475},
{"t":"2025-03-26T21:55","o":1.07529,"h":1.07531,"l":1.07517,"c":1.07519,"m":-0.000455},
{"t":"2025-03-26T22:00","o":1.0751,"h":1.07517,"l":1.075,"c":1.0751,"m":-0.000437},
{"t":"2025-03-26T22:05","o":1.07526,"h":1.07543,"l":1.07524,"c":1.07541,"m":-0.00041},
{"t":"2025-03-26T22:10","o":1.0755,"h":1.07552,"l":1.07527,"c":1.07529,"m":-0.00038},
{"t":"2025-03-26T22:15","o":1.07526,"h":1.07552,"l":1.07524,"c":1.0755,"m":-0.000355},
{"t":"2025-03-26T22:20","o":1.07529,"h":1.07543,"l":1.07527,"c":1.07541,"m":-0.00034},
{"t":"2025-03-26T22:25","o":1.0755,"h":1.07552,"l":1.07539,"c":1.07541,"m":-0.000315},
{"t":"2025-03-26T22:30","o":1.07529,"h":1.07543,"l":1.07527,"c":1.07541,"m":-0.000287},
{"t":"2025-03-26T22:35","o":1.07547,"h":1.07561,"l":1.07545,"c":1.07559,"m":-0.000275},
{"t":"2025-03-26T22:40","o":1.07552,"h":1.07572,"l":1.0755,"c":1.07552,"m":-0.000263},
{"t":"2025-03-26T22:45","o":1.07541,"h":1.07543,"l":1.0752,"c":1.07522,"m":-0.00025},
{"t":"2025-03-26T22:50","o":1.07529,"h":1.07531,"l":1.0751,"c":1.07529,"m":-0.00024},
{"t":"2025-03-26T22:55","o":1.07541,"h":1.07543,"l":1.07522,"c":1.07541,"m":-0.000215},
{"t":"2025-03-26T23:00","o":1.0755,"h":1.07601,"l":1.07548,"c":1.0758,"m":-0.00019},
{"t":"2025-03-26T23:05","o":1.07575,"h":1.0758,"l":1.07573,"c":1.07575,"m":-0.000164},
{"t":"2025-03-26T23:10","o":1.07559,"h":1.07561,"l":1.07557,"c":1.07559,"m":-0.00018},
{"t":"2025-03-26T23:15","o":1.0755,"h":1.07561,"l":1.0748,"c":1.07482,"m":-0.000191},
{"t":"2025-03-26T23:20","o":1.0747,"h":1.07472,"l":1.07417,"c":1.07419,"m":-0.00023},
{"t":"2025-03-26T23:25","o":1.07407,"h":1.07409,"l":1.07377,"c":1.07379,"m":-0.00027},
{"t":"2025-03-26T23:30","o":1.07395,"h":1.07397,"l":1.07358,"c":1.0736,"m":-0.000306},
{"t":"2025-03-26T23:35","o":1.07374,"h":1.0744,"l":1.07372,"c":1.07411,"m":-0.000315},
{"t":"2025-03-26T23:40","o":1.07402,"h":1.0744,"l":1.074,"c":1.07432,"m":-0.00032},
{"t":"2025-03-26T23:45","o":1.07441,"h":1.07451,"l":1.07428,"c":1.0743,"m":-0.000328},
{"t":"2025-03-26T23:50","o":1.07421,"h":1.0744,"l":1.07395,"c":1.07397,"m":-0.000335},
{"t":"2025-03-26T23:55","o":1.07395,"h":1.07421,"l":1.07372,"c":1.07374,"m":-0.000345},
{"t":"2025-03-27T00:00","o":1.07379,"h":1.07395,"l":1.07377,"c":1.07393,"m":-0.000355},
{"t":"2025-03-27T00:05","o":1.074,"h":1.07451,"l":1.07383,"c":1.074,"m":-0.000363},
{"t":"2025-03-27T00:10","o":1.07411,"h":1.07413,"l":1.0737,"c":1.07372,"m":-0.00037},
{"t":"2025-03-27T00:15","o":1.0736,"h":1.07374,"l":1.07358,"c":1.07372,"m":-0.000378},
{"t":"2025-03-27T00:20","o":1.07365,"h":1.07372,"l":1.07356,"c":1.07365,"m":-0.000382},
{"t":"2025-03-27T00:25","o":1.07372,"h":1.07374,"l":1.07342,"c":1.07344,"m":-0.000386},
{"t":"2025-03-27T00:30","o":1.07348,"h":1.07352,"l":1.0734,"c":1.07348,"m":-0.000388},
{"t":"2025-03-27T00:35","o":1.07341,"h":1.07365,"l":1.07332,"c":1.07363,"m":-0.000378},
{"t":"2025-03-27T00:40","o":1.07351,"h":1.07374,"l":1.07349,"c":1.07372,"m":-0.000367},
{"t":"2025-03-27T00:45","o":1.07363,"h":1.07402,"l":1.07361,"c":1.074,"m":-0.000355},
{"t":"2025-03-27T00:50","o":1.07388,"h":1.07402,"l":1.07386,"c":1.074,"m":-0.000345},
{"t":"2025-03-27T00:55","o":1.07395,"h":1.07397,"l":1.07379,"c":1.07381,"m":-0.000335},
{"t":"2025-03-27T01:00","o":1.07397,"h":1.07399,"l":1.07372,"c":1.07374,"m":-0.000328},
{"t":"2025-03-27T01:05","o":1.07381,"h":1.07383,"l":1.07363,"c":1.07365,"m":-0.000315},
{"t":"2025-03-27T01:10","o":1.07363,"h":1.07402,"l":1.07361,"c":1.074,"m":-0.0003},
{"t":"2025-03-27T01:15","o":1.07397,"h":1.07403,"l":1.07395,"c":1.07397,"m":-0.000284},
{"t":"2025-03-27T01:20","o":1.074,"h":1.07421,"l":1.07374,"c":1.07419,"m":-0.000265},
{"t":"2025-03-27T01:25","o":1.0743,"h":1.07432,"l":1.07417,"c":1.07419,"m":-0.000246},
{"t":"2025-03-27T01:30","o":1.07411,"h":1.07425,"l":1.07409,"c":1.07423,"m":-0.000228},
{"t":"2025-03-27T01:35","o":1.07411,"h":1.07432,"l":1.07409,"c":1.0743,"m":-0.00021},
{"t":"2025-03-27T01:40","o":1.07445,"h":1.07452,"l":1.07438,"c":1.07445,"m":-0.000195},
{"t":"2025-03-27T01:45","o":1.07444,"h":1.07446,"l":1.07435,"c":1.07444,"m":-0.000177},
{"t":"2025-03-27T01:50","o":1.07449,"h":1.07451,"l":1.07438,"c":1.07449,"m":-0.000157},
{"t":"2025-03-27T01:55","o":1.07439,"h":1.07441,"l":1.07417,"c":1.07419,"m":-0.00013},
{"t":"2025-03-27T02:00","o":1.07411,"h":1.07451,"l":1.07409,"c":1.07449,"m":-0.000109},
{"t":"2025-03-27T02:05","o":1.0746,"h":1.07502,"l":1.07458,"c":1.075,"m":-0.000075},
{"t":"2025-03-27T02:10","o":1.07491,"h":1.07497,"l":1.07475,"c":1.07477,"m":-0.000049},
{"t":"2025-03-27T02:15","o":1.0747,"h":1.07472,"l":1.07449,"c":1.07451,"m":-0.000032},
{"t":"2025-03-27T02:20","o":1.07482,"h":1.07484,"l":1.07447,"c":1.07449,"m":-0.000014},
{"t":"2025-03-27T02:25","o":1.07458,"h":1.0746,"l":1.07438,"c":1.07458,"m":0.000005},
{"t":"2025-03-27T02:30","o":1.07469,"h":1.07493,"l":1.07467,"c":1.07491,"m":0.000025},
{"t":"2025-03-27T02:35","o":1.07482,"h":1.07512,"l":1.0748,"c":1.0751,"m":0.000041},
{"t":"2025-03-27T02:40","o":1.075,"h":1.07512,"l":1.07498,"c":1.0751,"m":0.000055},
{"t":"2025-03-27T02:45","o":1.075,"h":1.07535,"l":1.07498,"c":1.07533,"m":0.000068},
{"t":"2025-03-27T02:50","o":1.07524,"h":1.07563,"l":1.07522,"c":1.07561,"m":0.000095},
{"t":"2025-03-27T02:55","o":1.07547,"h":1.07563,"l":1.07545,"c":1.07561,"m":0.000123},
{"t":"2025-03-27T03:00","o":1.07571,"h":1.07601,"l":1.07569,"c":1.07599,"m":0.00015},
{"t":"2025-03-27T03:05","o":1.07585,"h":1.07603,"l":1.07583,"c":1.07601,"m":0.000175},
{"t":"2025-03-27T03:10","o":1.0761,"h":1.07612,"l":1.07592,"c":1.07594,"m":0.000205},
{"t":"2025-03-27T03:15","o":1.07591,"h":1.07634,"l":1.07589,"c":1.07632,"m":0.00023},
{"t":"2025-03-27T03:20","o":1.0762,"h":1.07652,"l":1.07618,"c":1.0765,"m":0.000255},
{"t":"2025-03-27T03:25","o":1.07638,"h":1.07652,"l":1.07636,"c":1.0765,"m":0.00028},
{"t":"2025-03-27T03:30","o":1.07663,"h":1.07665,"l":1.0763,"c":1.07632,"m":0.000314},
{"t":"2025-03-27T03:35","o":1.07638,"h":1.0764,"l":1.07618,"c":1.07638,"m":0.00035}
],
"levels":[{"price":1.0804,"kind":"key"},{"price":1.0797,"kind":"minor"},{"price":1.0782,"kind":"bid"},{"price":1.0733,"kind":"minor"},{"price":1.0726,"kind":"key"}],
"zones":[
{"start":"2025-03-26T10:20","end":"2025-03-26T14:20","low":1.07901,"high":1.08085},
{"start":"2025-03-26T16:00","end":"2025-03-26T17:20","low":1.07882,"high":1.08011},
{"start":"2025-03-26T23:05","end":"2025-03-27T01:05","low":1.07236,"high":1.07405}
],
"markers":[{"t":"2025-03-26T00:00","kind":"day"},{"t":"2025-03-26T07:00","kind":"session"},{"t":"2025-03-26T14:00","kind":"session"},{"t":"2025-03-27T00:00","kind":"day"}]
},
"vconcat":[
{
"width":1407,"height":568,
"layer":[
{"data":{"name":"zones"},"mark":{"type":"rect","color":"#ffd700"},
"encoding":{
"x":{"field":"start","type":"temporal","scale":{"domain":[{"year":2025,"month":3,"date":25,"hours":22,"minutes":19,"seconds":22,"milliseconds":500},{"year":2025,"month":3,"date":27,"hours":3,"minutes":38,"seconds":7,"milliseconds":500}],"nice":false,"padding":0},"axis":null},
"x2":{"field":"end"},
"y":{"field":"low","type":"quantitative","scale":{"domain":[1.069685,1.085694],"nice":false,"zero":false},"axis":{"orient":"right","values":[1.0707,1.0722,1.0737,1.0752,1.0767,1.0782,1.0797,1.0812,1.0827,1.0842],"format":".4f","tickSize":3,"labelPadding":3,"title":null,"labelOverlap":false}},
"y2":{"field":"high"}}},
{"data":{"name":"markers"},"transform":[{"filter":"datum.kind == 'day'"}],"mark":{"type":"rule","color":"#7cfc00","strokeWidth":2},"encoding":{"x":{"field":"t","type":"temporal"}}},
{"data":{"name":"markers"},"transform":[{"filter":"datum.kind == 'session'"}],"mark":{"type":"rule","color":"#7cfc00","strokeWidth":1,"strokeDash":[6,3,2,3]},"encoding":{"x":{"field":"t","type":"temporal"}}},
{"data":{"name":"levels"},"transform":[{"filter":"datum.kind == 'bid'"}],"mark":{"type":"rule","color":"#c0c0c0","strokeWidth":1},"encoding":{"y":{"field":"price","type":"quantitative"}}},
{"data":{"name":"levels"},"transform":[{"filter":"datum.kind == 'minor'"}],"mark":{"type":"rule","color":"#ff0000","strokeWidth":1},"encoding":{"y":{"field":"price","type":"quantitative"}}},
{"data":{"name":"levels"},"transform":[{"filter":"datum.kind == 'key'"}],"mark":{"type":"rule","color":"#ff0000","strokeWidth":2},"encoding":{"y":{"field":"price","type":"quantitative"}}},
{"data":{"name":"bars"},"mark":{"type":"rule","color":"#000000","strokeWidth":1,"clip":true},"encoding":{"x":{"field":"t","type":"temporal"},"y":{"field":"l","type":"quantitative"},"y2":{"field":"h"}}},
{"data":{"name":"bars"},"mark":{"type":"bar","size":2,"stroke":"#000000","strokeWidth":1,"clip":true},"encoding":{"x":{"field":"t","type":"temporal"},"y":{"field":"o","type":"quantitative"},"y2":{"field":"c"},"fill":{"condition":{"test":"datum.c >= datum.o","value":"#ffffff"},"value":"#000000"}}},
{"data":{"values":[{"from":1.08011,"to":1.08307}]},"mark":{"type":"rule","color":"#000000","strokeWidth":3},"encoding":{"x":{"datum":{"year":2025,"month":3,"date":27,"hours":3,"minutes":38,"seconds":7,"milliseconds":500},"type":"temporal"},"y":{"field":"from","type":"quantitative"},"y2":{"field":"to"}}},
{"data":{"name":"levels"},"transform":[{"filter":"datum.kind != 'bid'"}],"mark":{"type":"point","shape":"M0,-0.32H2V0.32H0Z","filled":true,"size":2500,"color":"#ff0000","opacity":1,"strokeWidth":0},"encoding":{"x":{"datum":{"year":2025,"month":3,"date":27,"hours":3,"minutes":38,"seconds":7,"milliseconds":500},"type":"temporal"},"y":{"field":"price","type":"quantitative"}}},
{"data":{"name":"levels"},"transform":[{"filter":"datum.kind == 'bid'"}],"mark":{"type":"point","shape":"M0,-0.32H2V0.32H0Z","filled":true,"size":2500,"color":"#000000","opacity":1,"strokeWidth":0},"encoding":{"x":{"datum":{"year":2025,"month":3,"date":27,"hours":3,"minutes":38,"seconds":7,"milliseconds":500},"type":"temporal"},"y":{"field":"price","type":"quantitative"}}},
{"data":{"name":"levels"},"mark":{"type":"text","align":"left","baseline":"middle","dx":6,"color":"#ffffff","fontSize":11,"font":"DejaVu Sans"},"encoding":{"x":{"datum":{"year":2025,"month":3,"date":27,"hours":3,"minutes":38,"seconds":7,"milliseconds":500},"type":"temporal"},"y":{"field":"price","type":"quantitative"},"text":{"field":"price","type":"quantitative","format":".4f"}}},
{"data":{"values":[{"label":"▼"}]},"mark":{"type":"text","align":"left","baseline":"middle","dx":4,"dy":11,"color":"#000000","fontSize":9,"font":"DejaVu Sans"},"encoding":{"x":{"datum":{"year":2025,"month":3,"date":25,"hours":22,"minutes":19,"seconds":22,"milliseconds":500},"type":"temporal"},"y":{"datum":1.085694,"type":"quantitative"},"text":{"field":"label"}}},
{"data":{"values":[{"label":"EURUSD,M5  1.0782 1.0782 1.0782 1.0782"}]},"mark":{"type":"text","align":"left","baseline":"middle","dx":18,"dy":11,"color":"#000000","fontSize":11,"font":"DejaVu Sans"},"encoding":{"x":{"datum":{"year":2025,"month":3,"date":25,"hours":22,"minutes":19,"seconds":22,"milliseconds":500},"type":"temporal"},"y":{"datum":1.085694,"type":"quantitative"},"text":{"field":"label"}}}
]
},
{
"width":1407,"height":123,
"layer":[
{"data":{"name":"bars"},"mark":{"type":"bar","size":2,"color":"#c0c0c0","clip":true},
"encoding":{
"x":{"field":"t","type":"temporal","scale":{"domain":[{"year":2025,"month":3,"date":25,"hours":22,"minutes":19,"seconds":22,"milliseconds":500},{"year":2025,"month":3,"date":27,"hours":3,"minutes":38,"seconds":7,"milliseconds":500}],"nice":false,"padding":0},
"axis":{"orient":"bottom","values":[{"year":2025,"month":3,"date":25,"hours":22,"minutes":19,"seconds":22,"milliseconds":500},{"year":2025,"month":3,"date":26,"hours":0,"minutes":20},{"year":2025,"month":3,"date":26,"hours":2,"minutes":20},{"year":2025,"month":3,"date":26,"hours":4,"minutes":20},{"year":2025,"month":3,"date":26,"hours":6,"minutes":20},{"year":2025,"month":3,"date":26,"hours":8,"minutes":20},{"year":2025,"month":3,"date":26,"hours":10,"minutes":20},{"year":2025,"month":3,"date":26,"hours":12,"minutes":20},{"year":2025,"month":3,"date":26,"hours":14,"minutes":20},{"year":2025,"month":3,"date":26,"hours":16,"minutes":20},{"year":2025,"month":3,"date":26,"hours":18,"minutes":20},{"year":2025,"month":3,"date":26,"hours":20,"minutes":20},{"year":2025,"month":3,"date":26,"hours":22,"minutes":20},{"year":2025,"month":3,"date":27,"hours":0,"minutes":20},{"year":2025,"month":3,"date":27,"hours":2,"minutes":20}],
"labelExpr":"date(datum.value) == 25 ? '25 Mar 2025' : timeFormat(datum.value, '%d %b %H:%M')","labelAlign":"left","labelBaseline":"top","tickSize":4,"labelPadding":2,"labelOverlap":false,"labelFlush":false,"title":null}},
"y":{"field":"m","type":"quantitative","scale":{"domain":[-0.000615,0.000393],"nice":false,"zero":false},"axis":{"orient":"right","values":[-0.00056,0,0.00035],"labelExpr":"datum.value == 0 ? '0.00' : (datum.value < 0 ? '-' : '') + format(abs(datum.value), '.5f')","tickSize":3,"labelPadding":3,"title":null,"labelOverlap":false}},
"y2":{"datum":0}}},
{"data":{"name":"bars"},"mark":{"type":"line","color":"#ff0000","strokeWidth":1,"clip":true},"encoding":{"x":{"field":"t","type":"temporal"},"y":{"field":"m","type":"quantitative"}}},
{"data":{"name":"markers"},"transform":[{"filter":"datum.kind == 'day'"}],"mark":{"type":"rule","color":"#7cfc00","strokeWidth":2},"encoding":{"x":{"field":"t","type":"temporal"}}},
{"data":{"name":"markers"},"transform":[{"filter":"datum.kind == 'session'"}],"mark":{"type":"rule","color":"#7cfc00","strokeWidth":1,"strokeDash":[6,3,2,3]},"encoding":{"x":{"field":"t","type":"temporal"}}},
{"data":{"values":[{"label":"MACD(21,34,1) 0.00035 0.00035"}]},"mark":{"type":"text","align":"left","baseline":"middle","dx":4,"dy":11,"color":"#000000","fontSize":11,"font":"DejaVu Sans"},"encoding":{"x":{"datum":{"year":2025,"month":3,"date":25,"hours":22,"minutes":19,"seconds":22,"milliseconds":500},"type":"temporal"},"y":{"datum":0.000393,"type":"quantitative"},"text":{"field":"label"}}},
{"data":{"values":[{"brand":"instaforex"}]},"mark":{"type":"rect","color":"#3a3a3a","opacity":0.85},"encoding":{"x":{"datum":{"year":2025,"month":3,"date":25,"hours":22,"minutes":19,"seconds":22,"milliseconds":500},"type":"temporal"},"x2":{"datum":{"year":2025,"month":3,"date":26,"hours":2,"minutes":1}},"y":{"datum":-0.000435,"type":"quantitative"},"y2":{"datum":-0.00081}}},
{"data":{"values":[{"label":"⚙"}]},"mark":{"type":"text","align":"center","baseline":"middle","color":"#dcdcdc","fontSize":38,"font":"DejaVu Sans"},"encoding":{"x":{"datum":{"year":2025,"month":3,"date":25,"hours":22,"minutes":45},"type":"temporal"},"y":{"datum":-0.00062,"type":"quantitative"},"text":{"field":"label"}}},
{"data":{"values":[{"label":"instaforex"}]},"mark":{"type":"text","align":"left","baseline":"alphabetic","color":"#f0f0f0","fontSize":25,"font":"DejaVu Sans"},"encoding":{"x":{"datum":{"year":2025,"month":3,"date":25,"hours":23,"minutes":15},"type":"temporal"},"y":{"datum":-0.000664,"type":"quantitative"},"text":{"field":"label"}}},
{"data":{"values":[{"label":"Instant Forex Trading"}]},"mark":{"type":"text","align":"left","baseline":"middle","color":"#d0d0d0","fontSize":9,"font":"DejaVu Sans"},"encoding":{"x":{"datum":{"year":2025,"month":3,"date":25,"hours":23,"minutes":16},"type":"temporal"},"y":{"datum":-0.000738,"type":"quantitative"},"text":{"field":"label"}}}
]
}
]
}
